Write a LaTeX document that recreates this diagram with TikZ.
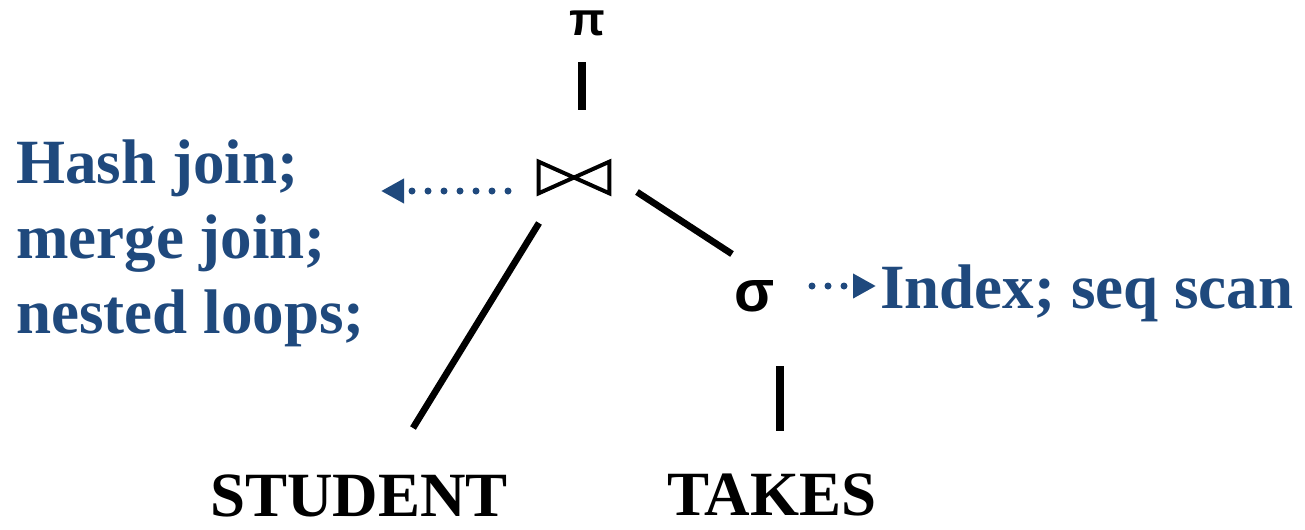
\documentclass[tikz,border=0pt]{standalone}
\usepackage{fontspec}
\setmainfont{Liberation Serif}
\newfontfamily\symfont{Liberation Sans}
\usetikzlibrary{arrows.meta}
\definecolor{hintblue}{RGB}{31,73,125}
\begin{document}
\begin{tikzpicture}[x=0.75pt,y=-0.75pt,
  lbl/.style={inner sep=0pt, font=\fontsize{47.25}{56}\selectfont\bfseries},
  hint/.style={lbl, text=hintblue, anchor=base west},
  rel/.style={lbl, anchor=base west},
  edge/.style={line width=5pt},
  opline/.style={line width=3pt, line join=miter},
  dots/.style={hintblue, line width=5.25pt, line cap=round, dash pattern=on 0pt off 12pt,
    -{Triangle[length=17.25pt,width=17.5pt]}}]
\useasboundingbox (0,0) rectangle (1305,529);

% operator nodes
\node[inner sep=0pt, anchor=base, font=\symfont\bfseries\fontsize{35}{42}\selectfont] (pi) at (587,35) {π};
\node[inner sep=0pt, minimum width=52.5pt, minimum height=23.25pt] (join) at (574,177.5) {};
\draw[opline] (join.north west) -- (join.south west) -- (join.center) -- cycle;
\draw[opline] (join.north east) -- (join.south east) -- (join.center) -- cycle;
\node[inner sep=0pt, anchor=base, font=\symfont\bfseries\fontsize{44}{54}\selectfont] (sigma) at (755,311) {σ};

% relations
\node[rel] (student) at (210,516) {STUDENT};
\node[rel] (takes) at (667,515) {TAKES};

% annotations
\node[hint] (hash) at (16,183) {Hash join;};
\node[hint] (merge) at (16,258) {merge join;};
\node[hint] (nested) at (16,333) {nested loops;};
\node[hint] (index) at (880,308) {Index; seq scan};

% connector end points
\coordinate (pi-top) at (582,62);
\coordinate (pi-bot) at (582,110);
\coordinate (js-a) at (637,192);
\coordinate (js-b) at (732,254);
\coordinate (jst-a) at (539,223);
\coordinate (jst-b) at (413,428);
\coordinate (st-a) at (780,366);
\coordinate (st-b) at (780,431);
\coordinate (dl-a) at (508,191);
\coordinate (dl-b) at (381,191);
\coordinate (dr-a) at (812,286);
\coordinate (dr-b) at (876,286);

\draw[line width=6pt] (pi-top) -- (pi-bot);
\draw[edge] (js-a) -- (js-b);
\draw[edge] (jst-a) -- (jst-b);
\draw[line width=6pt] (st-a) -- (st-b);
\draw[dots] (dl-a) -- (dl-b);
\draw[dots] (dr-a) -- (dr-b);
\end{tikzpicture}
\end{document}
